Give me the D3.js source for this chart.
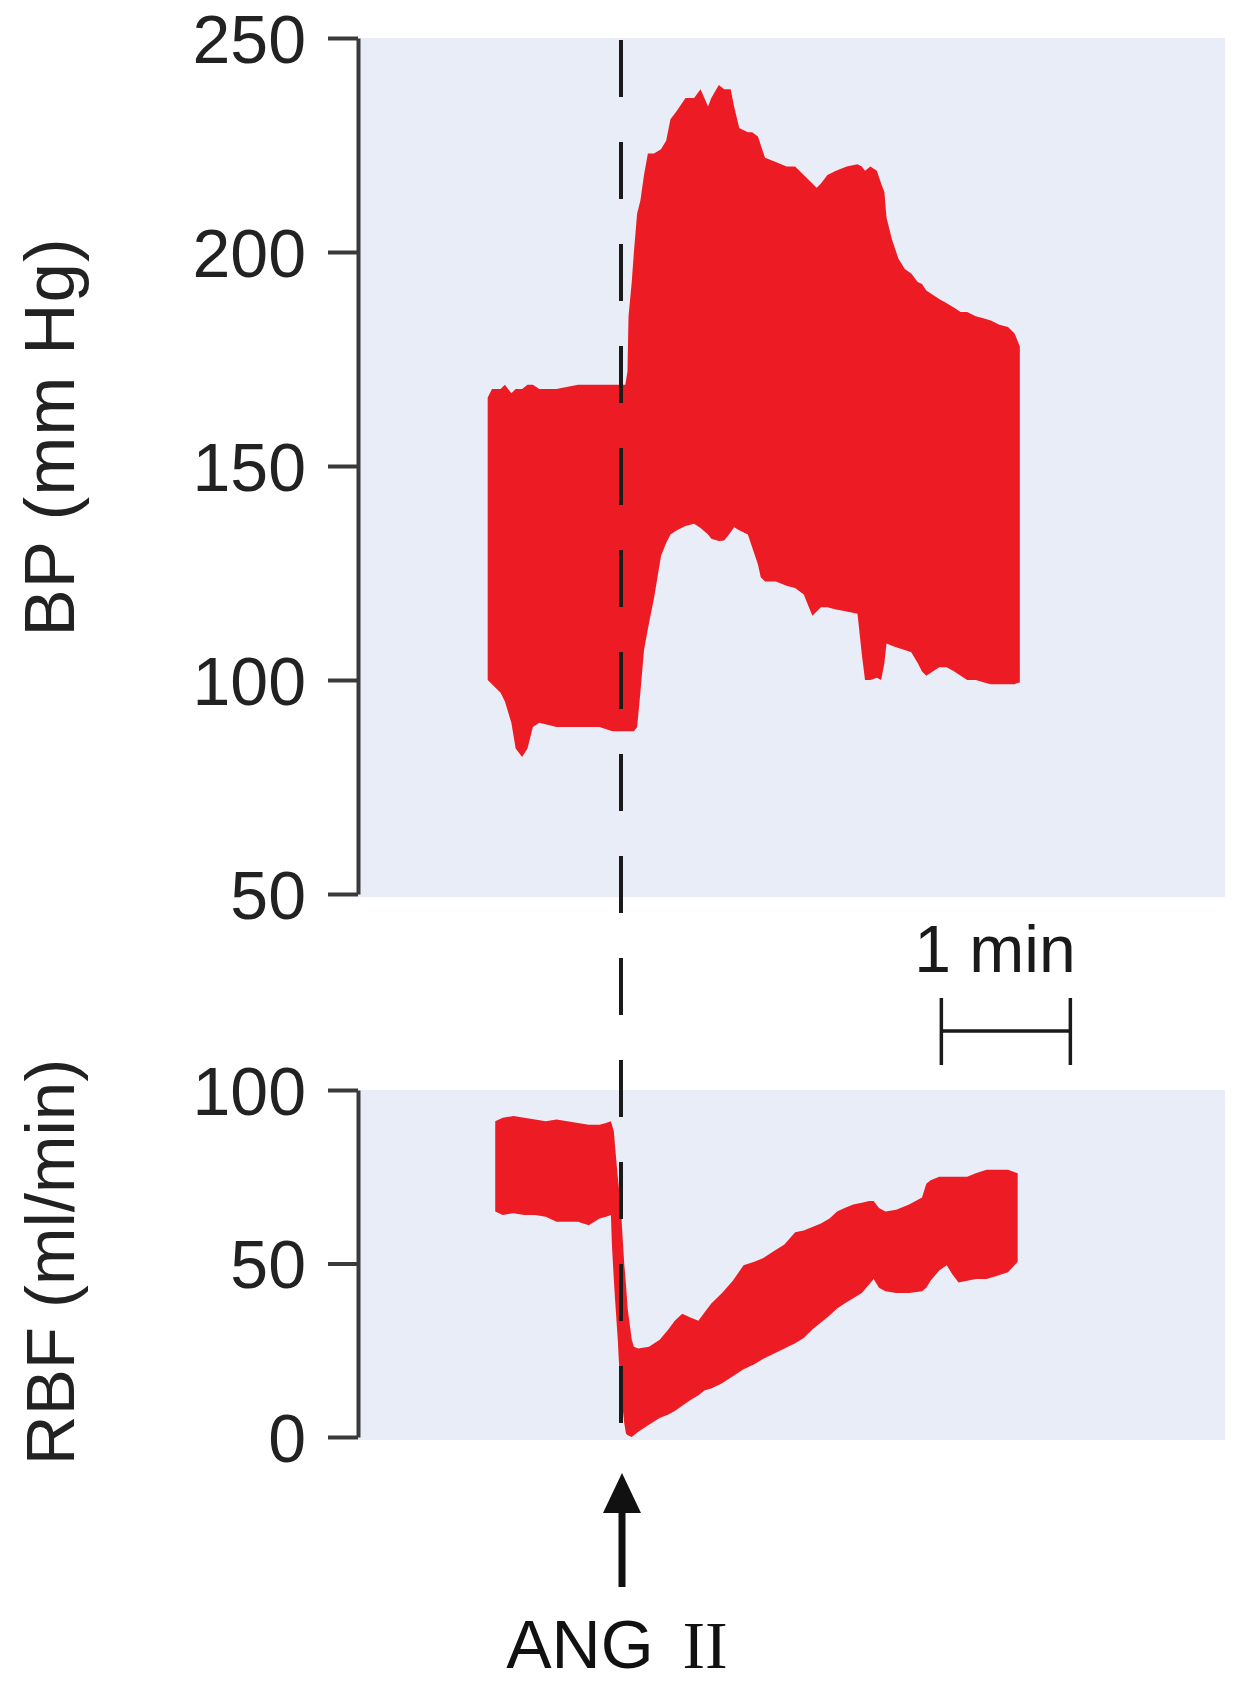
<!DOCTYPE html>
<html><head><meta charset="utf-8">
<script src="https://cdn.jsdelivr.net/npm/d3@7"></script>
<style>
html,body{margin:0;padding:0;background:#fff;}
svg{display:block;}
text{font-family:"Liberation Sans",Arial,Helvetica,sans-serif;}
</style></head>
<body>
<svg id="chart" width="1238" height="1683"></svg>
<script>
// ---- data (time in seconds relative to ANG II injection) ----
const bpTime = [-62,-60,-56,-54,-51,-49,-46,-43.5,-41,-38,-30,-20,-10,-4,0,2,3,3.5,5,6,7.5,9,10.7,12.5,15.3,18.6,21,23,26,30,34,37,40.5,42,45.5,48,51,52.6,55,59,61,63.7,65,67,72,77,81,85,89,91,93,96,100,105,110,112,113.5,116,119,121,122.5,123.5,126,129,132,135,138,140,142,145,148,151.5,155,158,161,165,168.5,172,176,180,183,185.5];
const bpSystolic = [166,168,168,169,167,168,168,169,169,168,168,169,169,169,169,169,172,185,193,200,209,212,218,223,223,224,226,231,233,236,236,238,234,236,239,238,238,234,229,228,228,227,225,222,221,220,220,218,216,215,216,218,219,220,220.5,220,219,220,219,216,214,208,203,198.5,196,195,193,192.5,191,190,189,188,187,186,186,185,184.5,184,183,182.5,181,178];
const bpDiastolic = [100,99,97,95,90,84,82,84,89,90,89,89,89,88,88,88,88,88,88,88,89,97,107,112,119,129,132,134,135,136,136.5,135.5,134,133,132.5,132.6,134.5,135.7,135,134,131,127,124,123,123,122,121.5,120,115,116,117,117,116.5,116,115.5,106,100,100,100.5,100,104,108.5,108,107.5,107,106.5,104,102,101,102,103,103,102,101,100,100,99.5,99,99,99,99,99.5];

const rbfTime = [-58.5,-55,-50,-45,-40,-35,-30,-25,-20,-15,-10,-7,-4.7,-4.2,-3.3,-2.8,-1.5,-1,0,0.5,1.5,2.3,3.1,5,6,8,13,18,22,25,28.5,32,36,39,42,47,52,57,62,66,71,76,81,85,89,93,97,100.5,104,108,112,115.5,117.5,120,123,128,134,140,142,144,148,151.5,154,157,161,165,170,175,180,184.5];
const rbfUpper = [91,92,92.5,92,91.5,91,91.5,91,90.5,90,90,90.5,91,90,88,84,75,72,66,60,50,44,37,28,26,25.5,26,28,31,33.5,35.5,34.5,33.5,36,38.5,41.5,45,49.5,50.5,51.5,53.5,55.5,59,59.5,60.5,61.5,63,65,66,67,67.5,68,68,66,65,65.5,67,69,73,74,75,75,75,75,75,76,77,77,77,76];
const rbfLower = [65,64,64.5,64,64,63.5,62,62,62,61,63,63.5,64,55,45,40,28,22,14,10,4,1,0.5,0,0.5,1.5,3.5,5.5,6.5,7.5,9,10.5,12,13.5,14,15.5,17.5,19.5,21,22.5,24,25.5,27,28.5,31,33,35,37,38.5,40,41.5,44,45.5,43,42,41.5,41.5,42,43,45,48,49.5,47,44.5,45,45.5,45.5,46.5,47.5,50.5];

const bpTicks = [50, 100, 150, 200, 250];
const rbfTicks = [0, 50, 100];
const injectionTime = 0;
const scaleBarStart = 149;   // seconds
const scaleBarLength = 60;   // 1 min
const labels = {bp: "BP (mm Hg)", rbf: "RBF (ml/min)", scale: "1 min", drug: "ANG", drugNum: "II"};

// ---- layout ----
const svg = d3.select("#chart");
const RED = "#ed1c24", BG = "#e9edf7", AX = "#3a3a3a";
const panelLeft = 358, panelRight = 1225;
const x = d3.scaleLinear().domain([0, 60]).range([621, 750]);
const yBP = d3.scaleLinear().domain([50, 250]).range([894, 38]);
const yRBF = d3.scaleLinear().domain([0, 100]).range([1437, 1090]);

// backgrounds
svg.append("rect").attr("x", panelLeft).attr("y", yBP(250)).attr("width", panelRight - panelLeft)
  .attr("height", yBP(50) - yBP(250) + 3).attr("fill", BG);
svg.append("rect").attr("x", panelLeft).attr("y", yRBF(100)).attr("width", panelRight - panelLeft)
  .attr("height", yRBF(0) - yRBF(100) + 3).attr("fill", BG);

// traces
const bpData = bpTime.map((t, i) => ({t, hi: bpSystolic[i], lo: bpDiastolic[i]}));
const rbfData = rbfTime.map((t, i) => ({t, hi: rbfUpper[i], lo: rbfLower[i]}));
svg.append("path").datum(bpData).attr("fill", RED)
  .attr("d", d3.area().x(d => x(d.t)).y0(d => yBP(d.lo)).y1(d => yBP(d.hi)));
svg.append("path").datum(rbfData).attr("fill", RED)
  .attr("d", d3.area().x(d => x(d.t)).y0(d => yRBF(d.lo)).y1(d => yRBF(d.hi)));

// axes
function styleAxis(g) {
  g.select(".domain").attr("stroke", AX).attr("stroke-width", 4);
  g.selectAll(".tick line").attr("stroke", AX).attr("stroke-width", 4);
  g.selectAll(".tick text").attr("fill", "#222").attr("font-size", 68)
    .attr("font-family", '"Liberation Sans", Arial, sans-serif').attr("dy", "0.36em");
}
svg.append("g").attr("transform", `translate(${panelLeft},0)`)
  .call(d3.axisLeft(yBP).tickValues(bpTicks).tickSize(30).tickSizeOuter(0).tickPadding(22))
  .call(styleAxis);
svg.append("g").attr("transform", `translate(${panelLeft},0)`)
  .call(d3.axisLeft(yRBF).tickValues(rbfTicks).tickSize(30).tickSizeOuter(0).tickPadding(22))
  .call(styleAxis);

// axis titles
svg.append("text").attr("transform", `translate(74,437) rotate(-90)`)
  .attr("text-anchor", "middle").attr("font-size", 71).attr("letter-spacing", 1).attr("fill", "#222").text(labels.bp);
svg.append("text").attr("transform", `translate(74,1262) rotate(-90)`)
  .attr("text-anchor", "middle").attr("font-size", 69).attr("fill", "#222").text(labels.rbf);

// dashed injection line
svg.append("line").attr("x1", x(injectionTime)).attr("x2", x(injectionTime))
  .attr("y1", yBP(250) + 2).attr("y2", yRBF(0) + 2)
  .attr("stroke", "#1a1a1a").attr("stroke-width", 4).attr("stroke-dasharray", "57,45");

// scale bar
const sbY = 1031;
const sb = svg.append("g").attr("stroke", "#1a1a1a").attr("stroke-width", 3.5);
sb.append("line").attr("x1", x(scaleBarStart)).attr("x2", x(scaleBarStart + scaleBarLength)).attr("y1", sbY).attr("y2", sbY);
sb.append("line").attr("x1", x(scaleBarStart)).attr("x2", x(scaleBarStart)).attr("y1", sbY - 33).attr("y2", sbY + 34);
sb.append("line").attr("x1", x(scaleBarStart + scaleBarLength)).attr("x2", x(scaleBarStart + scaleBarLength)).attr("y1", sbY - 33).attr("y2", sbY + 34);
svg.append("text").attr("x", 995).attr("y", 972)
  .attr("text-anchor", "middle").attr("font-size", 66).attr("fill", "#1a1a1a").text(labels.scale);

// arrow
const ax0 = x(injectionTime) + 1;
svg.append("line").attr("x1", ax0).attr("x2", ax0).attr("y1", 1505).attr("y2", 1587)
  .attr("stroke", "#111").attr("stroke-width", 7);
svg.append("path").attr("d", `M${ax0},1473 L${ax0 - 19},1513 L${ax0 + 19},1513 Z`).attr("fill", "#111");

// ANG II label
const lab = svg.append("text").attr("x", x(injectionTime) - 4).attr("y", 1668)
  .attr("text-anchor", "middle").attr("font-size", 68).attr("fill", "#111");
lab.append("tspan").text(labels.drug + " ");
lab.append("tspan").attr("font-family", '"Liberation Serif", "Times New Roman", serif').attr("dx", 10).text(labels.drugNum);
</script>
</body></html>
